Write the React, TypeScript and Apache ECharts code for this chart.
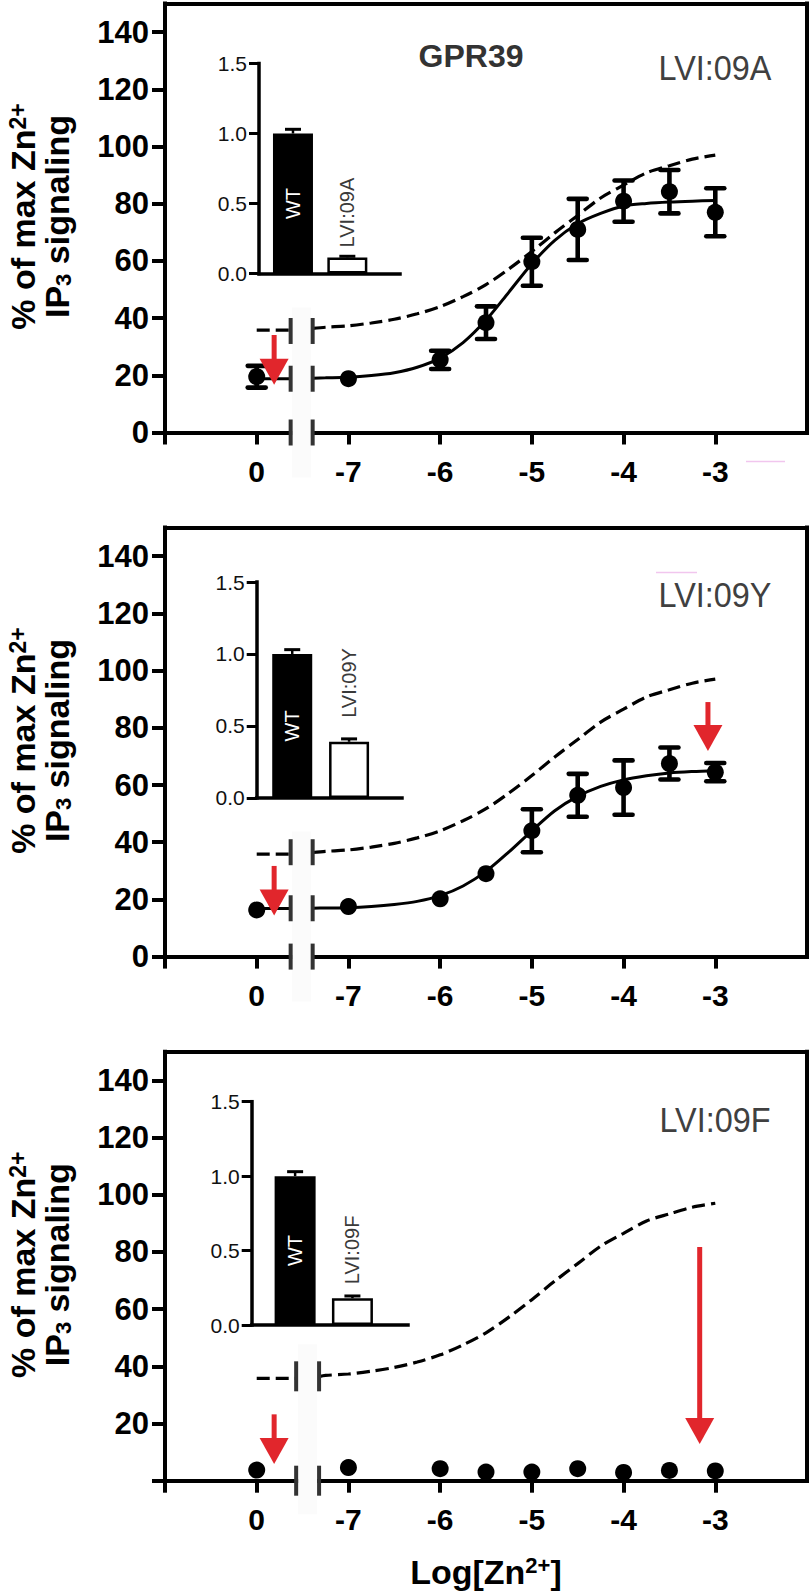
import React, { useEffect, useRef } from 'react';
import * as echarts from 'echarts';

const FONT = "'Liberation Sans', Arial, Helvetica, sans-serif";
const RED = '#e1262c';

// ---- axis ticks / labels ----
// x position -8 stands for "0" (no Zn2+), drawn left of the axis break
const xTickValues = [-9, -8, -7, -6, -5, -4, -3];
const xLabelValues = [-8, -7, -6, -5, -4, -3];
const xLabelText = ['0', '-7', '-6', '-5', '-4', '-3'];
const yTickValues = [0, 20, 40, 60, 80, 100, 120, 140];
const yTickValuesNoZero = [20, 40, 60, 80, 100, 120, 140];

// ---- concentration points ----
const doseX = [-8, -7, -6, -5.5, -5, -4.5, -4, -3.5, -3];

// ---- mutant responses (% of max Zn2+ IP3 signaling) ----
const meanA = [19.5, 18.8, 25.4, 38.4, 59.7, 71.0, 80.9, 84.2, 77.0];
const errA = [3.8, 0, 3.2, 5.7, 8.4, 10.7, 7.2, 7.6, 8.4];
const meanY = [16.3, 17.5, 20.2, 29.0, 44.0, 56.4, 59.1, 67.5, 64.5];
const errY = [0, 0, 0, 0, 7.5, 7.5, 9.5, 5.6, 3.2];
const meanF = [3.7, 4.6, 4.2, 3.0, 3.0, 4.2, 2.9, 3.6, 3.4];
const errF = [0, 0, 0, 0, 0, 0, 0, 0, 0];

// ---- fitted curves (first x is replaced by the break position) ----
const fitX = [-7.39, -7.25, -7, -6.75, -6.5, -6.25, -6, -5.75, -5.5, -5.25, -5, -4.75, -4.5, -4.25, -4, -3.75, -3.5, -3.25, -3];
// WT (dashed)
const wtLeftLevel = 35.8;
const wtFitY = [36.4, 36.8, 37.3, 38.3, 39.6, 41.5, 44.0, 47.5, 51.7, 57.2, 63.3, 69.8, 75.9, 82.0, 86.5, 90.8, 93.3, 95.6, 97.0];
// LVI:09A (solid)
const fitALeft = 18.8;
const fitAY = [19.0, 19.1, 19.3, 19.9, 20.9, 22.8, 26.0, 31.4, 39.3, 49.1, 59.0, 67.2, 73.0, 76.6, 79.2, 80.1, 80.6, 80.9, 81.1];
// LVI:09Y (solid)
const fitYLeft = 16.8;
const fitYY = [16.9, 17.0, 17.1, 17.5, 18.2, 19.3, 21.3, 24.7, 29.8, 36.6, 44.0, 51.0, 56.0, 59.5, 61.8, 63.2, 64.2, 64.7, 65.0];

// ---- red arrows [x, from, to] ----
const arrowsA = [[-7.81, 34.1, 16.7]];
const arrowsY = [[-7.81, 31.7, 14.4], [-3.08, 89.0, 71.9]];
const arrowsF = [[-7.81, 23.2, 5.8], [-3.17, 81.7, 12.8]];

// ---- inset bars (relative expression) ----
const insetCategories = ['WT', 'mutant'];
const mutantNames = ['LVI:09A', 'LVI:09Y', 'LVI:09F'];
const insetWT = [1.0, 1.0, 1.0];
const insetWTErr = [0.03, 0.03, 0.03];
const insetMut = [0.115, 0.39, 0.18];
const insetMutErr = [0.008, 0.02, 0.015];

// ---- layout (positions / sizes) ----
const panels = [
  {
    top: 3.5, mean: meanA, err: errA, fitY: fitAY as number[] | null, fitLeft: fitALeft, arrows: arrowsA,
    labelY: 67.5, breakX: [-7.63, -7.39], breakLevels: [0, 18.8, 35.5], breakH: 26, gapY: 14,
    showZero: true,
    inset: { left: 259, top: 63.5, width: 141, height: 210, xMax: 4.15, slots: [1, 2.6], barW: 40, labelDist: 10 },
  },
  {
    top: 527.6, mean: meanY, err: errY, fitY: fitYY as number[] | null, fitLeft: fitYLeft, arrows: arrowsY,
    labelY: 594, breakX: [-7.63, -7.39], breakLevels: [0, 16.9, 36.5], breakH: 26, gapY: 14,
    showZero: true,
    inset: { left: 256.7, top: 582, width: 145.3, height: 215.9, xMax: 4.09, slots: [1, 2.6], barW: 40, labelDist: 24 },
  },
  {
    top: 1051.7, mean: meanF, err: errF, fitY: null as number[] | null, fitLeft: 0, arrows: arrowsF,
    labelY: 1119, breakX: [-7.57, -7.32], breakLevels: [0, 36.5], breakH: 30, gapY: 18,
    showZero: false,
    inset: { left: 251.7, top: 1101.7, width: 156.3, height: 223.3, xMax: 3.6, slots: [1, 2.32], barW: 41, labelDist: 14 },
  },
];

const MAIN_LEFT = 165;
const MAIN_W = 642;
const MAIN_H = 429;

function errRender(params: any, api: any) {
  const x = api.value(0), y = api.value(1), e = api.value(2);
  const t = api.coord([x, y + e]);
  const b = api.coord([x, y - e]);
  const hw = 9;
  const st = { stroke: '#000', lineWidth: 4.6, lineCap: 'round' };
  return {
    type: 'group',
    children: [
      { type: 'line', shape: { x1: t[0], y1: t[1], x2: b[0], y2: b[1] }, style: { stroke: '#000', lineWidth: 4.6 } },
      { type: 'line', shape: { x1: t[0] - hw, y1: t[1], x2: t[0] + hw, y2: t[1] }, style: st },
      { type: 'line', shape: { x1: b[0] - hw, y1: b[1], x2: b[0] + hw, y2: b[1] }, style: st },
    ],
  };
}

function insetErrRender(params: any, api: any) {
  const x = api.value(0), y = api.value(1), e = api.value(2);
  const t = api.coord([x, y + e]);
  const b = api.coord([x, y]);
  const hw = 8;
  return {
    type: 'group',
    children: [
      { type: 'line', shape: { x1: t[0], y1: t[1], x2: b[0], y2: b[1] }, style: { stroke: '#000', lineWidth: 2.5 } },
      { type: 'line', shape: { x1: t[0] - hw, y1: t[1], x2: t[0] + hw, y2: t[1] }, style: { stroke: '#000', lineWidth: 3 } },
    ],
  };
}

function arrowRender(params: any, api: any) {
  const x = api.value(0), y0 = api.value(1), y1 = api.value(2);
  const p0 = api.coord([x, y0]);
  const p1 = api.coord([x, y1]);
  const headH = 26, headW = 14.5, shaftW = 5;
  return {
    type: 'group',
    children: [
      { type: 'rect', shape: { x: p0[0] - shaftW / 2, y: p0[1], width: shaftW, height: p1[1] - headH - p0[1] + 1 }, style: { fill: RED } },
      { type: 'polygon', shape: { points: [[p1[0] - headW, p1[1] - headH], [p1[0] + headW, p1[1] - headH], [p1[0], p1[1]]] }, style: { fill: RED } },
    ],
  };
}

function buildOption() {
  const grid: any[] = [];
  const xAxis: any[] = [];
  const yAxis: any[] = [];
  const series: any[] = [];
  const graphic: any[] = [];
  const lineW = 4;

  panels.forEach((p, i) => {
    grid.push({ left: MAIN_LEFT, top: p.top, width: MAIN_W, height: MAIN_H, containLabel: false });
    grid.push({ left: p.inset.left, top: p.inset.top, width: p.inset.width, height: p.inset.height, containLabel: false });
    const g = 2 * i;
    const xi = 3 * i;
    const yi = 3 * i;

    // main x axis (bottom)
    xAxis.push({
      type: 'value', gridIndex: g, position: 'bottom', min: -9, max: -2,
      axisLine: { show: true, onZero: false, lineStyle: { color: '#000', width: lineW, cap: 'square' } },
      axisTick: { show: true, customValues: xTickValues, length: 12, lineStyle: { color: '#000', width: lineW } },
      axisLabel: {
        show: true, customValues: xLabelValues, margin: 24,
        formatter: (v: number) => { const k = xLabelValues.indexOf(v); return k >= 0 ? xLabelText[k] : ''; },
        color: '#000', fontSize: 30, fontWeight: 'bold', fontFamily: FONT,
      },
      splitLine: { show: false },
    });
    // top border
    xAxis.push({
      type: 'value', gridIndex: g, position: 'top', min: -9, max: -2,
      axisLine: { show: true, onZero: false, lineStyle: { color: '#000', width: lineW, cap: 'square' } },
      axisTick: { show: false }, axisLabel: { show: false }, splitLine: { show: false },
    });
    // inset x axis
    xAxis.push({
      type: 'value', gridIndex: g + 1, min: 0, max: p.inset.xMax,
      axisLine: { show: true, onZero: false, lineStyle: { color: '#000', width: 3.5, cap: 'square' } },
      axisTick: { show: false }, axisLabel: { show: false }, splitLine: { show: false },
    });

    // main y axis
    yAxis.push({
      type: 'value', gridIndex: g, position: 'left', min: 0, max: 150,
      axisLine: { show: true, onZero: false, lineStyle: { color: '#000', width: lineW, cap: 'square' } },
      axisTick: { show: true, customValues: yTickValues, length: 13, lineStyle: { color: '#000', width: lineW } },
      axisLabel: {
        show: true, customValues: p.showZero ? yTickValues : yTickValuesNoZero, margin: 16,
        color: '#000', fontSize: 31, fontWeight: 'bold', fontFamily: FONT,
      },
      splitLine: { show: false },
    });
    // right border
    yAxis.push({
      type: 'value', gridIndex: g, position: 'right', min: 0, max: 150,
      axisLine: { show: true, onZero: false, lineStyle: { color: '#000', width: lineW, cap: 'square' } },
      axisTick: { show: false }, axisLabel: { show: false }, splitLine: { show: false },
    });
    // inset y axis
    yAxis.push({
      type: 'value', gridIndex: g + 1, min: 0, max: 1.5, interval: 0.5,
      axisLine: { show: true, onZero: false, lineStyle: { color: '#000', width: 3.5, cap: 'square' } },
      axisTick: { show: true, length: 10, lineStyle: { color: '#000', width: 3 } },
      axisLabel: {
        show: true, margin: 12, formatter: (v: number) => v.toFixed(1),
        color: '#111', fontSize: 21, fontFamily: FONT,
      },
      splitLine: { show: false },
    });

    const [bL, bR] = p.breakX;

    // WT dashed fit
    const dashStyle = { color: '#000', width: 3.2, type: [13, 6] };
    series.push({
      type: 'line', xAxisIndex: xi, yAxisIndex: yi, symbol: 'none', silent: true, z: 2,
      data: [[-8, wtLeftLevel], [bL, wtLeftLevel]], lineStyle: dashStyle,
    });
    series.push({
      type: 'line', xAxisIndex: xi, yAxisIndex: yi, symbol: 'none', silent: true, z: 2,
      smooth: 0.3,
      data: fitX.map((x, k) => [k === 0 ? bR : x, wtFitY[k]]), lineStyle: dashStyle,
    });

    // mutant solid fit
    if (p.fitY) {
      const fy = p.fitY;
      const solid = { color: '#000', width: 3 };
      series.push({
        type: 'line', xAxisIndex: xi, yAxisIndex: yi, symbol: 'none', silent: true, z: 2,
        data: [[-8, p.fitLeft], [bL, p.fitLeft]], lineStyle: solid,
      });
      series.push({
        type: 'line', xAxisIndex: xi, yAxisIndex: yi, symbol: 'none', silent: true, z: 2,
        smooth: 0.3,
        data: fitX.map((x, k) => [k === 0 ? bR : x, fy[k]]), lineStyle: solid,
      });
    }

    // error bars
    const errData = doseX.map((x, k) => [x, p.mean[k], p.err[k]]).filter((d) => d[2] > 0);
    if (errData.length) {
      series.push({
        type: 'custom', xAxisIndex: xi, yAxisIndex: yi, renderItem: errRender, data: errData, z: 3, clip: false, silent: true,
      });
    }

    // data points
    series.push({
      type: 'scatter', xAxisIndex: xi, yAxisIndex: yi, symbol: 'circle', symbolSize: 17, z: 4, silent: true,
      itemStyle: { color: '#000', opacity: 1 },
      data: doseX.map((x, k) => [x, p.mean[k]]),
    });

    // axis-break gap (faint column) and break marks
    series.push({
      type: 'scatter', xAxisIndex: xi, yAxisIndex: yi, symbol: 'rect', symbolSize: [19, 170], z: 5, silent: true, clip: false,
      itemStyle: { color: '#fbfbfb', opacity: 1 },
      data: [[(bL + bR) / 2, p.gapY]],
    });
    const marks: number[][] = [];
    p.breakLevels.forEach((lv) => { marks.push([bL, lv]); marks.push([bR, lv]); });
    series.push({
      type: 'scatter', xAxisIndex: xi, yAxisIndex: yi, symbol: 'rect', symbolSize: [4, p.breakH], z: 6, silent: true, clip: false,
      itemStyle: { color: '#333', opacity: 1 },
      data: marks,
    });

    // red arrows
    series.push({
      type: 'custom', xAxisIndex: xi, yAxisIndex: yi, renderItem: arrowRender, data: p.arrows, z: 7, clip: false, silent: true,
    });

    // inset bars
    const ins = p.inset;
    series.push({
      type: 'bar', xAxisIndex: xi + 2, yAxisIndex: yi + 2, barWidth: ins.barW, silent: true, z: 2,
      data: [
        {
          name: insetCategories[0], value: [ins.slots[0], insetWT[i]],
          itemStyle: { color: '#000', borderColor: '#000', borderWidth: 0 },
          label: { show: true, position: 'inside', rotate: 90, formatter: 'WT', color: '#fff', fontSize: 20, fontFamily: FONT },
        },
        {
          name: insetCategories[1], value: [ins.slots[1], insetMut[i]],
          itemStyle: { color: '#fff', borderColor: '#000', borderWidth: 2.5 },
          label: {
            show: true, position: 'top', rotate: 90, align: 'left', verticalAlign: 'middle', distance: ins.labelDist,
            formatter: mutantNames[i], color: '#3a3a3a', fontSize: 20, fontFamily: FONT,
          },
        },
      ],
    });
    series.push({
      type: 'custom', xAxisIndex: xi + 2, yAxisIndex: yi + 2, renderItem: insetErrRender, z: 3, clip: false, silent: true,
      data: [[ins.slots[0], insetWT[i], insetWTErr[i]], [ins.slots[1], insetMut[i], insetMutErr[i]]],
    });

    // y axis title
    graphic.push({
      type: 'text', x: 40, y: p.top + 213, rotation: Math.PI / 2, z: 10,
      style: {
        text: '{a|% of max Zn}{s|2+}\n{a|IP}{b|3}{a| signaling}',
        align: 'center', verticalAlign: 'middle', fill: '#000',
        rich: {
          a: { fontSize: 34, fontWeight: 'bold', fontFamily: FONT, lineHeight: 34, fill: '#000' },
          s: { fontSize: 23, fontWeight: 'bold', fontFamily: FONT, lineHeight: 14, verticalAlign: 'top', fill: '#000' },
          b: { fontSize: 22, fontWeight: 'bold', fontFamily: FONT, lineHeight: 20, verticalAlign: 'bottom', fill: '#000' },
        },
      },
    });

    // mutant name
    graphic.push({
      type: 'text', x: 715, y: p.labelY, scaleX: 0.9, z: 10,
      style: { text: mutantNames[i], fontSize: 36, fontFamily: FONT, fill: '#404040', align: 'center', verticalAlign: 'middle' },
    });
  });

  graphic.push({
    type: 'text', x: 471, y: 56, z: 10,
    style: { text: 'GPR39', fontSize: 32, fontWeight: 'bold', fontFamily: FONT, fill: '#333', align: 'center', verticalAlign: 'middle' },
  });
  graphic.push({
    type: 'text', x: 486, y: 1572, z: 10,
    style: {
      text: '{a|Log[Zn}{s|2+}{a|]}', align: 'center', verticalAlign: 'middle',
      rich: {
        a: { fontSize: 34, fontWeight: 'bold', fontFamily: FONT, lineHeight: 36, fill: '#000' },
        s: { fontSize: 22, fontWeight: 'bold', fontFamily: FONT, lineHeight: 14, verticalAlign: 'top', fill: '#000' },
      },
    },
  });
  // faint pink stray marks
  graphic.push({ type: 'line', shape: { x1: 746, y1: 461.5, x2: 785, y2: 461.5 }, style: { stroke: '#f1c6ee', lineWidth: 1.5 }, z: 1 });
  graphic.push({ type: 'line', shape: { x1: 656, y1: 572.5, x2: 697, y2: 572.5 }, style: { stroke: '#f1c6ee', lineWidth: 1.5 }, z: 1 });

  return {
    animation: false,
    backgroundColor: '#fff',
    textStyle: { fontFamily: FONT },
    grid, xAxis, yAxis, series, graphic,
  };
}

export default function App() {
  const ref = useRef<HTMLDivElement>(null);
  useEffect(() => {
    if (!ref.current) return;
    const chart = echarts.init(ref.current, null, { renderer: 'svg' });
    chart.setOption(buildOption() as any);
    return () => chart.dispose();
  }, []);
  return (
    <div
      ref={ref}
      style={{ position: 'absolute', left: 0, top: 0, width: 810, height: 1594, background: '#fff' }}
    />
  );
}
